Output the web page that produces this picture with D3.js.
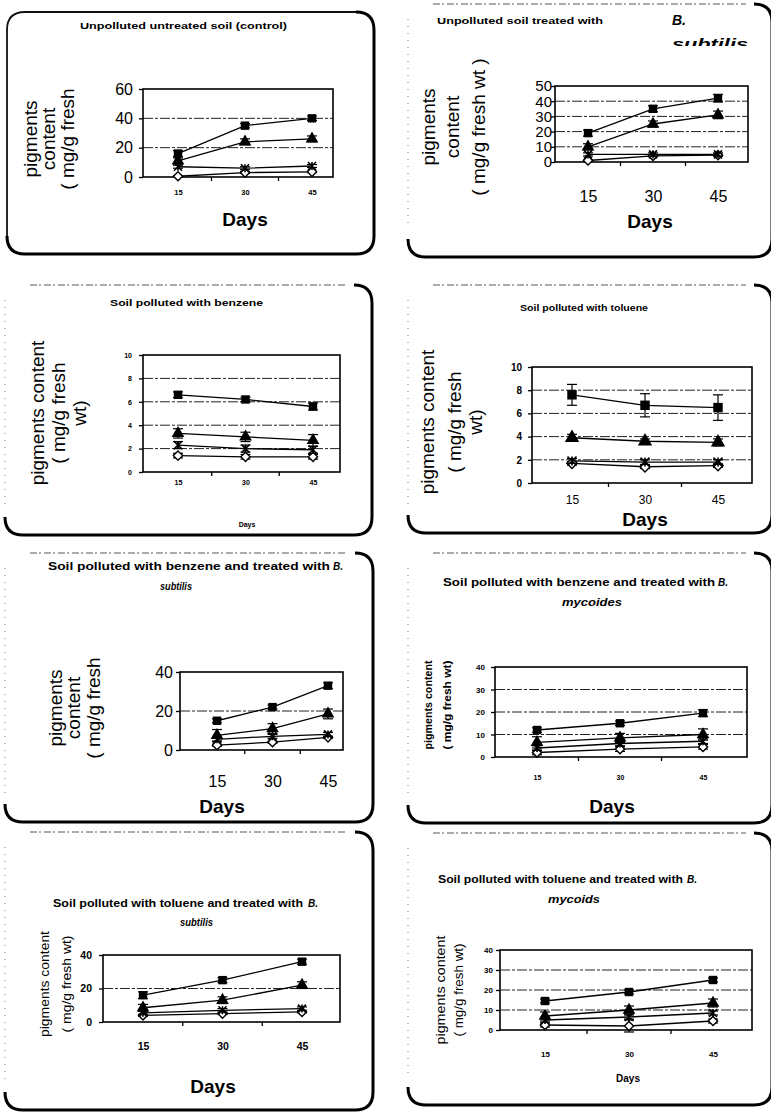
<!DOCTYPE html>
<html>
<head>
<meta charset="utf-8">
<script src="https://cdn.jsdelivr.net/npm/d3@7"></script>
<style>
body { margin: 0; background: #fff; }
svg { display: block; font-family: "Liberation Sans", Arial, sans-serif; }
</style>
</head>
<body>
<div id="fig"></div>
<script>
// days of sampling (x categories)
const days = ["15", "30", "45"];
// every panel: rows = series drawn with square, triangle, cross, diamond
const controlMean = [[16, 35, 40], [11, 24, 26], [7, 6, 7.5], [0.5, 3, 3.5]];
const controlErr = [[2, 1.5, 1.5], [2, 2, 2], [1, 1, 1], [0.5, 0.5, 0.5]];
const subtilisMean = [[19, 35, 42], [10, 25, 31], [5, 5, 5], [1, 4, 4.5]];
const subtilisErr = [[2, 2, 2.5], [2, 2, 2.5], [1, 1, 1], [0.5, 0.5, 0.5]];
const benzeneMean = [[6.6, 6.2, 5.6], [3.3, 3.0, 2.7], [2.3, 2.0, 1.9], [1.4, 1.3, 1.3]];
const benzeneErr = [[0.25, 0.2, 0.3], [0.4, 0.4, 0.5], [0.3, 0.3, 0.3], [0.2, 0.2, 0.2]];
const tolueneMean = [[7.6, 6.7, 6.5], [3.9, 3.6, 3.5], [1.9, 1.8, 1.8], [1.7, 1.4, 1.5]];
const tolueneErr = [[0.9, 1.0, 1.1], [0.3, 0.2, 0.3], [0.2, 0.2, 0.2], [0.15, 0.15, 0.15]];
const benzSubMean = [[15, 22, 33], [7.5, 11, 18.5], [5.5, 7, 8], [2.5, 4, 6.5]];
const benzSubErr = [[1, 1, 1.5], [3, 2.5, 2.5], [1, 1, 1], [0.5, 0.5, 0.5]];
const benzMycMean = [[12, 15, 19.5], [6.5, 8.5, 10], [4, 6, 7], [2, 3.5, 4.5]];
const benzMycErr = [[1, 1, 1.5], [2.5, 2, 2.5], [1, 1, 1], [1, 1, 1]];
const tolSubMean = [[16, 25, 36], [8.5, 13, 22], [5.5, 7, 8], [4, 5, 6]];
const tolSubErr = [[2, 1.5, 1.5], [2, 2, 2], [1, 1, 1], [0.5, 0.5, 0.5]];
const tolMycMean = [[14.5, 19, 25], [7, 10, 13.5], [5, 6.5, 8.5], [2.5, 2, 4.5]];
const tolMycErr = [[1, 1, 1], [2, 2, 2], [1, 1, 1], [1, 3, 1]];

const ticks60 = [0, 20, 40, 60];
const ticks50 = [0, 10, 20, 30, 40, 50];
const ticks10 = [0, 2, 4, 6, 8, 10];
const ticks40 = [0, 20, 40];
const ticks40b = [0, 10, 20, 30, 40];

const W = 771, H = 1115;
const svg = d3.select("#fig").append("svg").attr("width", W).attr("height", H);
const defs = svg.append("defs");

function txt(g, o) {
    const t = g.append("text")
        .attr("x", o.x).attr("y", o.y)
        .attr("font-size", o.size)
        .attr("font-weight", o.bold ? "bold" : "normal")
        .attr("font-style", o.italic ? "italic" : "normal")
        .attr("text-anchor", o.anchor || "start")
        .attr("fill", "#000")
        .text(o.t);
    if (o.len) t.attr("textLength", o.len).attr("lengthAdjust", "spacingAndGlyphs");
    if (o.clip) t.attr("clip-path", o.clip);
    return t;
}

function frame(g, f) {
    const r = f.r || 18;
    if (f.full) {
        g.append("path")
            .attr("d", `M${f.x0},${f.y1 - r} L${f.x0},${f.y0 + r} Q${f.x0},${f.y0} ${f.x0 + r},${f.y0} L${f.x1 - r},${f.y0}`)
            .attr("fill", "none").attr("stroke", "#111").attr("stroke-width", 1.8);
    } else {
        // faint dotted remains of the scanned box
        g.append("line").attr("x1", f.x0 + 25).attr("x2", f.x1 - r - 8)
            .attr("y1", f.y0).attr("y2", f.y0)
            .attr("stroke", "#444").attr("stroke-width", 0.9).attr("stroke-dasharray", "7,2,2,3");
        g.append("line").attr("x1", f.x0).attr("x2", f.x0)
            .attr("y1", f.y0 + 15).attr("y2", f.y1 - r - 10)
            .attr("stroke", "#555").attr("stroke-width", 0.8).attr("stroke-dasharray", "1,6");
    }
    g.append("path")
        .attr("d", `M${f.x0},${f.y1 - r} Q${f.x0},${f.y1} ${f.x0 + r},${f.y1} L${f.x1 - r},${f.y1} Q${f.x1},${f.y1} ${f.x1},${f.y1 - r} L${f.x1},${f.y0 + r} Q${f.x1},${f.y0} ${f.x1 - r},${f.y0}`)
        .attr("fill", "none").attr("stroke", "#000").attr("stroke-width", 3);
}

const panels = [
    {mean: controlMean, err: controlErr, yTicks: ticks60, plot: {l: 143, r: 333, t: 89, b: 177}, pts: [178, 312],
     frame: {x0: 7, y0: 12, x1: 374, y1: 254, full: true},
     yTick: {size: 16, bold: false, gap: 10}, xTick: {size: 7.5, bold: true, base: 195},
     days: {x: 245, y: 226, size: 19, bold: true},
     ylab: {lines: ["pigments", "content", "( mg/g fresh"], xs: [30, 48, 67], cy: 139, size: 19},
     title: [{t: "Unpolluted untreated soil (control)", x: 80, y: 29, size: 9.5, bold: true, len: 207}], mk: 8},
    {mean: subtilisMean, err: subtilisErr, yTicks: ticks50, plot: {l: 555, r: 748, t: 86, b: 162}, pts: [588, 718],
     frame: {x0: 408, y0: 4, x1: 772, y1: 257},
     yTick: {size: 15, bold: false, gap: 3}, xTick: {size: 16, bold: false, base: 202},
     days: {x: 650, y: 228, size: 19, bold: true},
     ylab: {lines: ["pigments", "content", "( mg/g fresh wt )"], xs: [428, 452, 478], cy: 127, size: 19},
     title: [{t: "Unpolluted soil treated with", x: 437, y: 24, size: 9.5, bold: true, len: 166},
             {t: "B.", x: 672, y: 25, size: 14, bold: true, italic: true},
             {t: "subtilis", x: 672, y: 49, size: 14, bold: true, italic: true, len: 76, clip: "url(#cut2)"}], mk: 8},
    {mean: benzeneMean, err: benzeneErr, yTicks: ticks10, plot: {l: 143, r: 340, t: 355, b: 472}, pts: [178, 313],
     frame: {x0: 5, y0: 285, x1: 372, y1: 535},
     yTick: {size: 7, bold: true, gap: 11}, xTick: {size: 7, bold: true, base: 485},
     days: {x: 247, y: 527, size: 7, bold: true},
     ylab: {lines: ["pigments content", "( mg/g fresh", "wt)"], xs: [37, 58, 79], cy: 413, size: 19},
     title: [{t: "Soil polluted with benzene", x: 110, y: 306, size: 9.5, bold: true, len: 153}], mk: 8},
    {mean: tolueneMean, err: tolueneErr, yTicks: ticks10, plot: {l: 532, r: 752, t: 367, b: 483}, pts: [572, 718],
     frame: {x0: 408, y0: 285, x1: 772, y1: 533},
     yTick: {size: 10, bold: true, gap: 10}, xTick: {size: 12, bold: false, base: 504},
     days: {x: 645, y: 526, size: 19, bold: true},
     ylab: {lines: ["pigments content", "( mg/g fresh", "wt)"], xs: [427, 454, 475], cy: 422, size: 19},
     title: [{t: "Soil polluted with toluene", x: 520, y: 311, size: 9, bold: true, len: 128}], mk: 9},
    {mean: benzSubMean, err: benzSubErr, yTicks: ticks40, plot: {l: 180, r: 343, t: 672, b: 750}, pts: [217, 328],
     frame: {x0: 5, y0: 553, x1: 373, y1: 822},
     yTick: {size: 16, bold: false, gap: 7}, xTick: {size: 16, bold: false, base: 787},
     days: {x: 222, y: 813, size: 19, bold: true},
     ylab: {lines: ["pigments", "content", "( mg/g fresh"], xs: [55, 73, 93], cy: 708, size: 19},
     title: [{t: "Soil polluted with benzene and treated with", x: 48, y: 570, size: 10, bold: true, len: 282},
             {t: "B.", x: 333, y: 570, size: 10, bold: true, italic: true},
             {t: "subtilis", x: 160, y: 590, size: 10, bold: true, italic: true, len: 32}], mk: 8},
    {mean: benzMycMean, err: benzMycErr, yTicks: ticks40b, plot: {l: 495, r: 747, t: 667, b: 757}, pts: [537, 703],
     frame: {x0: 408, y0: 553, x1: 772, y1: 823},
     yTick: {size: 8, bold: true, gap: 10}, xTick: {size: 7, bold: true, base: 780},
     days: {x: 612, y: 813, size: 19, bold: true},
     ylab: {lines: ["pigments content", "( mg/g fresh wt)"], xs: [428, 447], cy: 705, size: 10.5, bold: true, lens: [89, 89]},
     title: [{t: "Soil polluted with benzene and treated with", x: 443, y: 586, size: 10, bold: true, len: 272},
             {t: "B.", x: 718, y: 586, size: 10, bold: true, italic: true},
             {t: "mycoides", x: 562, y: 606, size: 10, bold: true, italic: true, len: 60}], mk: 8},
    {mean: tolSubMean, err: tolSubErr, yTicks: ticks40, plot: {l: 103, r: 340, t: 955, b: 1022}, pts: [143, 302],
     frame: {x0: 5, y0: 832, x1: 373, y1: 1110},
     yTick: {size: 10.5, bold: true, gap: 11}, xTick: {size: 10.5, bold: true, base: 1050},
     days: {x: 213, y: 1093, size: 19, bold: true},
     ylab: {lines: ["pigments content", "( mg/g fresh wt)"], xs: [44, 66], cy: 984, size: 13, lens: [106, 97]},
     title: [{t: "Soil polluted with toluene and treated with", x: 53, y: 907, size: 10, bold: true, len: 250},
             {t: "B.", x: 308, y: 907, size: 10, bold: true, italic: true},
             {t: "subtilis", x: 180, y: 926, size: 10, bold: true, italic: true, len: 33}], mk: 8},
    {mean: tolMycMean, err: tolMycErr, yTicks: ticks40b, plot: {l: 500, r: 752, t: 950, b: 1030}, pts: [545, 713],
     frame: {x0: 408, y0: 833, x1: 772, y1: 1105},
     yTick: {size: 8, bold: true, gap: 7}, xTick: {size: 8, bold: true, base: 1057},
     days: {x: 628, y: 1082, size: 10, bold: true},
     ylab: {lines: ["pigments content", "( mg/g fresh wt)"], xs: [441, 459], cy: 990, size: 12.5, lens: [109, 93]},
     title: [{t: "Soil polluted with toluene and treated with", x: 438, y: 883, size: 10, bold: true, len: 245},
             {t: "B.", x: 687, y: 883, size: 10, bold: true, italic: true},
             {t: "mycoids", x: 548, y: 903, size: 10, bold: true, italic: true, len: 52}], mk: 8}
];

defs.append("clipPath").attr("id", "cut2").append("rect")
    .attr("x", 660).attr("y", 30).attr("width", 111).attr("height", 16);

const tri = d3.symbol().type(d3.symbolTriangle);
const sq = d3.symbol().type(d3.symbolSquare);

function drawPanel(p) {
    const g = svg.append("g");
    frame(g, p.frame);

    const x = d3.scalePoint().domain(days).range(p.pts);
    const y = d3.scaleLinear().domain([0, d3.max(p.yTicks)]).range([p.plot.b, p.plot.t]);

    // gridlines
    g.append("g").selectAll("line")
        .data(p.yTicks.slice(1, -1))
        .join("line")
        .attr("x1", p.plot.l).attr("x2", p.plot.r)
        .attr("y1", d => y(d)).attr("y2", d => y(d))
        .attr("stroke", "#222").attr("stroke-width", 1)
        .attr("stroke-dasharray", "10,2,3,2");

    // plot area border
    g.append("rect")
        .attr("x", p.plot.l).attr("y", p.plot.t)
        .attr("width", p.plot.r - p.plot.l).attr("height", p.plot.b - p.plot.t)
        .attr("fill", "none").attr("stroke", "#000").attr("stroke-width", 1.6);

    // y axis
    const ya = g.append("g").attr("transform", `translate(${p.plot.l},0)`)
        .call(d3.axisLeft(y).tickValues(p.yTicks).tickSize(4).tickPadding(p.yTick.gap - 4));
    ya.select(".domain").remove();
    ya.selectAll("line").attr("stroke", "#000").attr("stroke-width", 1.3);
    ya.selectAll("text").attr("font-size", p.yTick.size)
        .attr("font-weight", p.yTick.bold ? "bold" : "normal")
        .attr("font-family", "'Liberation Sans', Arial, sans-serif").attr("fill", "#000");

    // x axis: labels at categories, ticks between them
    const xa = g.append("g").attr("transform", `translate(0,${p.plot.b})`)
        .call(d3.axisBottom(x).tickSize(0).tickPadding(p.xTick.base - p.plot.b - 0.71 * p.xTick.size));
    xa.select(".domain").remove();
    xa.selectAll("text").attr("font-size", p.xTick.size)
        .attr("font-weight", p.xTick.bold ? "bold" : "normal")
        .attr("font-family", "'Liberation Sans', Arial, sans-serif").attr("fill", "#000");
    const mids = d3.pairs(days).map(([a, b]) => (x(a) + x(b)) / 2);
    g.append("g").selectAll("line").data(mids).join("line")
        .attr("x1", d => d).attr("x2", d => d)
        .attr("y1", p.plot.b).attr("y2", p.plot.b + 4)
        .attr("stroke", "#000").attr("stroke-width", 1.3);

    const area = p.mk * p.mk;
    const line = d3.line().x((d, i) => x(days[i])).y(d => y(d));

    // series drawn from the lowest up so the filled markers stay on top
    [3, 2, 1, 0].forEach(s => {
        const vals = p.mean[s], errs = p.err[s];
        g.append("path").attr("d", line(vals))
            .attr("fill", "none").attr("stroke", "#000").attr("stroke-width", 1.3);

        const eb = g.append("g").attr("stroke", "#000").attr("stroke-width", 1.2);
        vals.forEach((v, i) => {
            const cx = x(days[i]);
            eb.append("line").attr("x1", cx).attr("x2", cx)
                .attr("y1", y(v - errs[i])).attr("y2", y(v + errs[i]));
            [v - errs[i], v + errs[i]].forEach(e => {
                eb.append("line").attr("x1", cx - 5).attr("x2", cx + 5)
                    .attr("y1", y(e)).attr("y2", y(e));
            });
        });

        const mk = g.append("g");
        vals.forEach((v, i) => {
            const cx = x(days[i]), cy = y(v);
            const h = p.mk / 2;
            if (s === 0) {
                mk.append("path").attr("d", sq.size(area * 1.1)())
                    .attr("transform", `translate(${cx},${cy})`).attr("fill", "#000");
            } else if (s === 1) {
                mk.append("path").attr("d", tri.size(area * 1.1)())
                    .attr("transform", `translate(${cx},${cy})`).attr("fill", "#000");
            } else if (s === 2) {
                mk.append("path")
                    .attr("d", `M${cx - h},${cy - h}L${cx + h},${cy + h}M${cx - h},${cy + h}L${cx + h},${cy - h}M${cx},${cy - h}L${cx},${cy + h}`)
                    .attr("stroke", "#000").attr("stroke-width", 1.6);
            } else {
                const d = h * 1.15;
                mk.append("path")
                    .attr("d", `M${cx},${cy - d}L${cx + d},${cy}L${cx},${cy + d}L${cx - d},${cy}Z`)
                    .attr("fill", "#fff").attr("stroke", "#000").attr("stroke-width", 1.4);
            }
        });
    });

    // axis titles
    txt(g, {t: "Days", x: p.days.x, y: p.days.y, size: p.days.size, bold: p.days.bold, anchor: "middle"});
    p.ylab.lines.forEach((ln, i) => {
        const t = g.append("text")
            .attr("transform", `translate(${p.ylab.xs[i]},${p.ylab.cy}) rotate(-90)`)
            .attr("dy", "0.35em")
            .attr("text-anchor", "middle")
            .attr("font-size", p.ylab.size)
            .attr("font-weight", p.ylab.bold ? "bold" : "normal")
            .text(ln);
        if (p.ylab.lens) t.attr("textLength", p.ylab.lens[i]).attr("lengthAdjust", "spacingAndGlyphs");
    });

    p.title.forEach(o => txt(g, o));
}

panels.forEach(drawPanel);
</script>
</body>
</html>
